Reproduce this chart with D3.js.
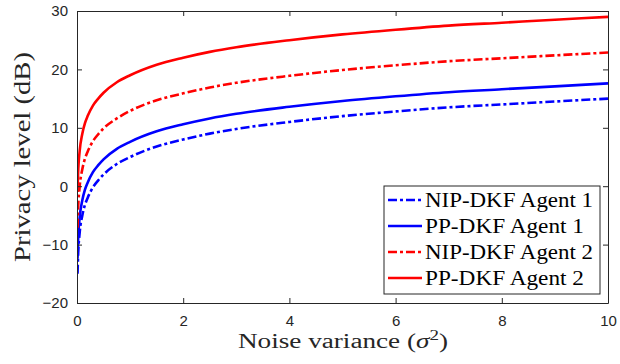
<!DOCTYPE html>
<html>
<head>
<meta charset="utf-8">
<script src="https://cdn.jsdelivr.net/npm/d3@7"></script>
<style>
  body { margin: 0; background: #fff; }
  svg { display: block; }
</style>
</head>
<body>
<figure id="chart" style="margin:0"></figure>
<script>
// noise variance samples (sigma^2)
const sigma2 = [0.01, 0.02, 0.05, 0.1, 0.15, 0.2, 0.3, 0.4, 0.5, 0.75, 1, 1.5, 2, 2.5, 3, 4, 5, 6, 7, 8, 9, 10];

// privacy level in dB
const nipAgent1 = [-15.0, -12.0, -8.0, -5.0, -3.2, -2.0, -0.2, 1.0, 2.0, 3.8, 5.0, 6.8, 8.0, 9.0, 9.8, 11.0, 12.0, 12.8, 13.5, 14.0, 14.5, 15.0];
const ppAgent1  = [-12.4, -9.4, -5.4, -2.4, -0.6, 0.6, 2.4, 3.6, 4.6, 6.4, 7.6, 9.4, 10.6, 11.6, 12.4, 13.6, 14.6, 15.4, 16.1, 16.6, 17.1, 17.6];
const nipAgent2 = [-7.1, -4.1, -0.1, 2.9, 4.7, 5.9, 7.7, 8.9, 9.9, 11.6, 12.9, 14.7, 15.9, 16.9, 17.7, 18.9, 19.9, 20.7, 21.4, 21.9, 22.4, 22.9];
const ppAgent2  = [-1.0, 2.0, 6.0, 9.0, 10.8, 12.0, 13.8, 15.0, 16.0, 17.8, 19.0, 20.8, 22.0, 23.0, 23.8, 25.0, 26.0, 26.8, 27.5, 28.0, 28.5, 29.0];

const xTicks = [0, 2, 4, 6, 8, 10];
const yTicks = [-20, -10, 0, 10, 20, 30];

const series = [
  { name: "NIP-DKF Agent 1", values: nipAgent1, color: "#0000ff", dash: "9,3,3,3" },
  { name: "PP-DKF Agent 1",  values: ppAgent1,  color: "#0000ff", dash: null },
  { name: "NIP-DKF Agent 2", values: nipAgent2, color: "#ff0000", dash: "9,3,3,3" },
  { name: "PP-DKF Agent 2",  values: ppAgent2,  color: "#ff0000", dash: null }
];

const width = 620, height = 364;
const margin = { top: 11, right: 12, bottom: 61, left: 77 };
const w = width - margin.left - margin.right;
const h = height - margin.top - margin.bottom;
const axisColor = "#262626";
const serif = "'Liberation Serif', 'Times New Roman', serif";

const svg = d3.select("#chart").append("svg")
  .attr("width", width)
  .attr("height", height);

const g = svg.append("g")
  .attr("transform", "translate(" + margin.left + "," + margin.top + ")");

const x = d3.scaleLinear().domain([0, 10]).range([0, w]);
const y = d3.scaleLinear().domain([-20, 30]).range([h, 0]);

// curves
const line = d3.line()
  .x(d => x(d[0]))
  .y(d => y(d[1]))
  .curve(d3.curveMonotoneX);

g.append("defs").append("clipPath").attr("id", "clip")
  .append("rect").attr("width", w).attr("height", h);

series.forEach(s => {
  g.append("path")
    .datum(sigma2.map((v, i) => [v, s.values[i]]))
    .attr("clip-path", "url(#clip)")
    .attr("fill", "none")
    .attr("stroke", s.color)
    .attr("stroke-width", 2.6)
    .attr("stroke-dasharray", s.dash)
    .attr("d", line);
});

// axes (MATLAB style box with inward ticks)
const tickFont = "'Liberation Sans', Arial, sans-serif";

const xAxis = g.append("g")
  .attr("transform", "translate(0," + h + ")")
  .call(d3.axisBottom(x).tickValues(xTicks).tickSizeInner(-5).tickSizeOuter(0).tickPadding(12));
const xTop = g.append("g")
  .call(d3.axisTop(x).tickValues(xTicks).tickSizeInner(-5).tickSizeOuter(0).tickFormat(""));
const yAxis = g.append("g")
  .call(d3.axisLeft(y).tickValues(yTicks).tickSizeInner(-5).tickSizeOuter(0).tickPadding(9));
const yRight = g.append("g")
  .attr("transform", "translate(" + w + ",0)")
  .call(d3.axisRight(y).tickValues(yTicks).tickSizeInner(-5).tickSizeOuter(0).tickFormat(""));

[xAxis, xTop, yAxis, yRight].forEach(a => {
  a.select(".domain").attr("stroke", axisColor).attr("stroke-width", 1);
  a.selectAll(".tick line").attr("stroke", axisColor);
  a.selectAll("text")
    .attr("fill", axisColor)
    .style("font-family", tickFont)
    .style("font-size", "15px");
});

// axis labels (glyphs stretched to the wide LaTeX look)
svg.append("text")
  .attr("x", 238)
  .attr("y", 348)
  .attr("textLength", 210)
  .attr("lengthAdjust", "spacingAndGlyphs")
  .style("font-family", serif)
  .style("font-size", "20px")
  .attr("fill", axisColor)
  .html("Noise variance (<tspan font-style='italic'>σ</tspan><tspan dy='-8' font-size='14px'>2</tspan><tspan dy='8'>)</tspan>");

svg.append("text")
  .attr("transform", "translate(30,262) rotate(-90)")
  .attr("textLength", 210)
  .attr("lengthAdjust", "spacingAndGlyphs")
  .style("font-family", serif)
  .style("font-size", "24px")
  .attr("fill", axisColor)
  .text("Privacy level (dB)");

// legend
const legend = svg.append("g").attr("transform", "translate(384,186)");
legend.append("rect")
  .attr("width", 216)
  .attr("height", 108)
  .attr("fill", "#fff")
  .attr("stroke", axisColor)
  .attr("stroke-width", 1);

const legendWidths = [168, 159, 168, 159];
series.forEach((s, i) => {
  const row = legend.append("g").attr("transform", "translate(0," + (14 + i * 26) + ")");
  row.append("line")
    .attr("x1", 4).attr("x2", 38)
    .attr("y1", 0).attr("y2", 0)
    .attr("stroke", s.color)
    .attr("stroke-width", 2.6)
    .attr("stroke-dasharray", s.dash);
  row.append("text")
    .attr("x", 41)
    .attr("y", 7)
    .attr("textLength", legendWidths[i])
    .attr("lengthAdjust", "spacingAndGlyphs")
    .style("font-family", serif)
    .style("font-size", "20px")
    .attr("fill", "#000")
    .text(s.name);
});
</script>
</body>
</html>
